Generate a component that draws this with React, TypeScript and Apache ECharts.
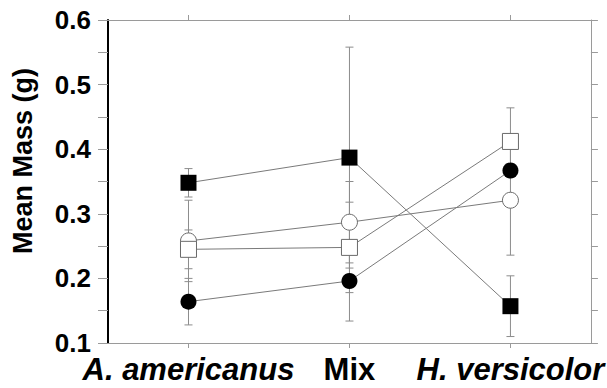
import React, { useEffect, useRef } from "react";
import * as echarts from "echarts";

const categories = ["A. americanus", "Mix", "H. versicolor"];

// Four treatment series (means) and their error half-widths
const filledSquare = [0.348, 0.387, 0.157];
const filledSquareErr = [0.022, 0.171, 0.047];
const openCircle = [0.258, 0.287, 0.321];
const openCircleErr = [0.063, 0.063, 0.085];
const openSquare = [0.245, 0.248, 0.412];
const openSquareErr = [0.03, 0.07, 0.052];
const filledCircle = [0.164, 0.196, 0.367];
const filledCircleErr = [0.036, 0.062, 0.01];

const yMin = 0.1;
const yMax = 0.6;
const yStep = 0.05;

const FONT = "'Liberation Sans', Arial, Helvetica, sans-serif";
const LINE_GRAY = "#7a7a7a";
const ERR_GRAY = "#8c8c8c";
const AXIS_GRAY = "#9a9a9a";

function errData(means: number[], errs: number[]) {
  return means.map((m, i) => [i, m, errs[i]]);
}

const errorRender = (params: any, api: any) => {
  const x = api.value(0);
  const m = api.value(1);
  const e = api.value(2);
  const hi = api.coord([x, m + e]);
  const lo = api.coord([x, m - e]);
  const w = 4;
  const style = { stroke: ERR_GRAY, lineWidth: 1 };
  return {
    type: "group",
    children: [
      { type: "line", shape: { x1: hi[0], y1: hi[1], x2: lo[0], y2: lo[1] }, style },
      { type: "line", shape: { x1: hi[0] - w, y1: hi[1], x2: hi[0] + w, y2: hi[1] }, style },
      { type: "line", shape: { x1: lo[0] - w, y1: lo[1], x2: lo[0] + w, y2: lo[1] }, style },
    ],
  };
};

export default function App() {
  const ref = useRef<HTMLDivElement>(null);
  useEffect(() => {
    if (!ref.current) return;
    const chart = echarts.init(ref.current, null, { renderer: "svg" });
    const errSeries = [
      [filledSquare, filledSquareErr],
      [openCircle, openCircleErr],
      [openSquare, openSquareErr],
      [filledCircle, filledCircleErr],
    ].map(([m, e], k) => ({
      type: "custom",
      name: "err" + k,
      renderItem: errorRender,
      data: errData(m as number[], e as number[]),
      encode: { x: 0, y: 1 },
      z: 1,
      silent: true,
    }));
    const lineBase = {
      type: "line",
      lineStyle: { color: LINE_GRAY, width: 1 },
      z: 3,
      silent: true,
    };
    chart.setOption({
      animation: false,
      backgroundColor: "#fff",
      grid: { left: 108, right: 14, top: 20, bottom: 45 },
      xAxis: [
        {
          type: "category",
          data: categories,
          position: "bottom",
          boundaryGap: true,
          axisLine: { show: true, lineStyle: { color: AXIS_GRAY, width: 1 } },
          axisTick: { show: true, alignWithLabel: true, length: 5, lineStyle: { color: AXIS_GRAY } },
          splitLine: { show: false },
          axisLabel: {
            margin: 12,
            formatter: (v: string) => (v === "Mix" ? "{n|" + v + "}" : "{i|" + v + "}"),
            rich: {
              i: { fontFamily: FONT, fontSize: 31, lineHeight: 28, fontWeight: "bold", fontStyle: "italic", color: "#000" },
              n: { fontFamily: FONT, fontSize: 31, lineHeight: 28, fontWeight: "bold", color: "#000" },
            },
          },
        },
        {
          type: "category",
          data: categories,
          position: "top",
          boundaryGap: true,
          axisLine: { show: true, lineStyle: { color: AXIS_GRAY, width: 1 } },
          axisTick: { show: true, alignWithLabel: true, length: 5, lineStyle: { color: AXIS_GRAY } },
          axisLabel: { show: false },
          splitLine: { show: false },
        },
      ],
      yAxis: [
        {
          type: "value",
          min: yMin,
          max: yMax,
          interval: yStep,
          position: "left",
          axisLine: { show: true, lineStyle: { color: "#000", width: 2 } },
          axisTick: { show: true, length: 10, lineStyle: { color: AXIS_GRAY } },
          splitLine: { show: false },
          axisLabel: {
            margin: 17,
            fontFamily: FONT,
            fontSize: 26,
            lineHeight: 20,
            fontWeight: "bold",
            color: "#000",
            formatter: (v: number) => {
              const r = Math.round(v * 100);
              return r % 10 === 0 ? (r / 100).toFixed(1) : "";
            },
          },
        },
        {
          type: "value",
          min: yMin,
          max: yMax,
          interval: yStep,
          position: "right",
          axisLine: { show: true, lineStyle: { color: AXIS_GRAY, width: 1 } },
          axisTick: { show: true, length: 7, lineStyle: { color: AXIS_GRAY } },
          axisLabel: { show: false },
          splitLine: { show: false },
        },
      ],
      graphic: [
        {
          type: "text",
          x: 23,
          y: 161,
          rotation: Math.PI / 2,
          style: {
            text: "Mean Mass (g)",
            fontFamily: FONT,
            fontSize: 27,
            fontWeight: "bold",
            fill: "#000",
            align: "center",
            verticalAlign: "middle",
          },
        },
      ],
      series: [
        ...errSeries,
        {
          ...lineBase,
          name: "filledSquare",
          data: filledSquare,
          symbol: "rect",
          symbolSize: 16,
          itemStyle: { color: "#000", borderColor: "#000", borderWidth: 0 },
        },
        {
          ...lineBase,
          name: "openCircle",
          data: openCircle,
          symbol: "circle",
          symbolSize: 16,
          itemStyle: { color: "#fff", borderColor: "#6a6a6a", borderWidth: 1 },
        },
        {
          ...lineBase,
          name: "openSquare",
          data: openSquare,
          symbol: "rect",
          symbolSize: 16,
          itemStyle: { color: "#fff", borderColor: "#6a6a6a", borderWidth: 1 },
        },
        {
          ...lineBase,
          name: "filledCircle",
          data: filledCircle,
          symbol: "circle",
          symbolSize: 16,
          itemStyle: { color: "#000", borderColor: "#000", borderWidth: 0 },
        },
      ],
    });
    return () => chart.dispose();
  }, []);
  return <div ref={ref} style={{ width: 607, height: 388, position: "absolute", left: 0, top: 0 }} />;
}
